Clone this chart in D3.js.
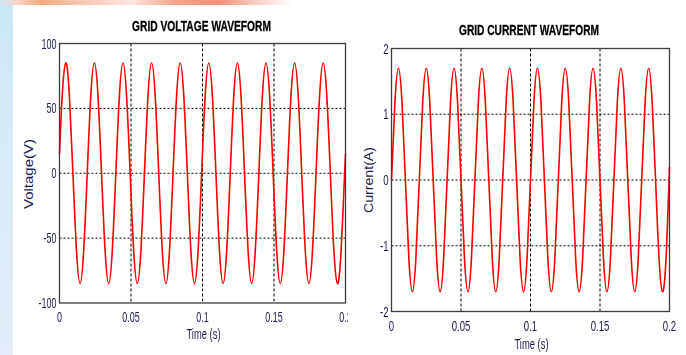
<!DOCTYPE html>
<html><head><meta charset="utf-8">
<script src="https://cdn.jsdelivr.net/npm/d3@7"></script>
<style>body{margin:0;background:#fff}svg{display:block}</style>
</head><body>
<svg id="c" width="686" height="355"></svg>
<script>
// ---- data (times in ms) ----
const voltageTime = [0, 1.9, 4.4, 6.9, 9.4, 11.9, 14.4, 16.9, 19.4, 21.9, 24.4, 26.9, 29.4, 31.9, 34.4, 36.9, 39.4,
  41.9, 44.4, 46.9, 49.4, 51.9, 54.4, 56.9, 59.4, 61.9, 64.4, 66.9, 69.4, 71.9, 74.4, 76.9, 79.4,
  81.9, 84.4, 86.9, 89.4, 91.9, 94.4, 96.9, 99.4, 101.9, 104.4, 106.9, 109.4, 111.9, 114.4, 116.9, 119.4,
  121.9, 124.4, 126.9, 129.4, 131.9, 134.4, 136.9, 139.4, 141.9, 144.4, 146.9, 149.4, 151.9, 154.4, 156.9, 159.4,
  161.9, 164.4, 166.9, 169.4, 171.9, 174.4, 176.9, 179.4, 181.9, 184.4, 186.9, 189.4, 191.9, 194.4, 196.9, 199.4, 200];
const voltageValue = [15,
  60, 85, 60, 0, -60, -85, -60, 0,
  60, 85, 60, 0, -60, -85, -60, 0,
  60, 85, 60, 0, -60, -85, -60, 0,
  60, 85, 60, 0, -60, -85, -60, 0,
  60, 85, 60, 0, -60, -85, -60, 0,
  60, 85, 60, 0, -60, -85, -60, 0,
  60, 85, 60, 0, -60, -85, -60, 0,
  60, 85, 60, 0, -60, -85, -60, 0,
  60, 85, 60, 0, -60, -85, -60, 0,
  60, 85, 60, 0, -60, -85, -60, 0,
  15];
const currentTime = [0, 2.5, 5, 7.5, 10, 12.5, 15, 17.5, 20, 22.5, 25, 27.5, 30, 32.5, 35, 37.5, 40,
  42.5, 45, 47.5, 50, 52.5, 55, 57.5, 60, 62.5, 65, 67.5, 70, 72.5, 75, 77.5, 80,
  82.5, 85, 87.5, 90, 92.5, 95, 97.5, 100, 102.5, 105, 107.5, 110, 112.5, 115, 117.5, 120,
  122.5, 125, 127.5, 130, 132.5, 135, 137.5, 140, 142.5, 145, 147.5, 150, 152.5, 155, 157.5, 160,
  162.5, 165, 167.5, 170, 172.5, 175, 177.5, 180, 182.5, 185, 187.5, 190, 192.5, 195, 197.5, 200];
const currentValue = [0,
  1.2, 1.7, 1.2, 0, -1.2, -1.7, -1.2, 0,
  1.2, 1.7, 1.2, 0, -1.2, -1.7, -1.2, 0,
  1.2, 1.7, 1.2, 0, -1.2, -1.7, -1.2, 0,
  1.2, 1.7, 1.2, 0, -1.2, -1.7, -1.2, 0,
  1.2, 1.7, 1.2, 0, -1.2, -1.7, -1.2, 0,
  1.2, 1.7, 1.2, 0, -1.2, -1.7, -1.2, 0,
  1.2, 1.7, 1.2, 0, -1.2, -1.7, -1.2, 0,
  1.2, 1.7, 1.2, 0, -1.2, -1.7, -1.2, 0,
  1.2, 1.7, 1.2, 0, -1.2, -1.7, -1.2, 0,
  1.2, 1.7, 1.2, 0, -1.2, -1.7, -1.2, 0.2];
const xTicks = [0, 0.05, 0.1, 0.15, 0.2];
const xTickLabels = ["0", "0.05", "0.1", "0.15", "0.2"];
const xGrid = [0.05, 0.1, 0.15];
const voltageTicks = [-100, -50, 0, 50, 100];
const voltageGrid = [-50, 0, 50];
const currentTicks = [-2, -1, 0, 1, 2];
const currentGrid = [-1, 0, 1];

const svg = d3.select('#c');
const defs = svg.append('defs');
const blur = defs.append('filter').attr('id','bl').attr('x','-20%').attr('y','-50%').attr('width','140%').attr('height','200%');
blur.append('feGaussianBlur').attr('stdDeviation', 0.35);
const gV = defs.append('linearGradient').attr('id','gv').attr('x1',0).attr('y1',0).attr('x2',0).attr('y2',1);
gV.append('stop').attr('offset','0%').attr('stop-color','#c9e6f4');
gV.append('stop').attr('offset','40%').attr('stop-color','#d8ecf7');
gV.append('stop').attr('offset','100%').attr('stop-color','#e4edf9');
const gH = defs.append('linearGradient').attr('id','gh');
[['0%','#cfe6f3'],['6%','#f7d6c6'],['14%','#f3a97c'],['26%','#f6c3b0'],['45%','#fbe6e2'],['60%','#f3a48a'],['75%','#f2907a'],['88%','#f8cfc6'],['100%','#ffffff']]
  .forEach(([o,c]) => gH.append('stop').attr('offset',o).attr('stop-color',c));

svg.append('rect').attr('width',686).attr('height',355).attr('fill','#fff');
svg.append('rect').attr('x',0).attr('y',0).attr('width',13).attr('height',355).attr('fill','url(#gv)');
svg.append('rect').attr('x',0).attr('y',0).attr('width',292).attr('height',5).attr('fill','url(#gh)');

function label(g, x, y, txt, size, anchor, sx, fill) {
  return g.append('text')
    .attr('transform', `translate(${x},${y}) scale(${sx},1)`)
    .attr('text-anchor', anchor)
    .attr('font-family', 'Liberation Sans, Arial, sans-serif')
    .attr('font-size', size)
    .attr('fill', fill)
    .text(txt);
}

function panel(cfg) {
  const g = svg.append('g');
  const x = d3.scaleLinear().domain([0, 0.2]).range([cfg.left, cfg.right]);
  const y = d3.scaleLinear().domain(cfg.yDomain).range([cfg.bottom, cfg.top]);
  // grid
  g.selectAll('.vg').data(xGrid).enter().append('line')
    .attr('x1', d => x(d)).attr('x2', d => x(d)).attr('y1', cfg.top).attr('y2', cfg.bottom)
    .attr('stroke', '#000').attr('stroke-width', 1).attr('stroke-dasharray', '3,2');
  g.selectAll('.hg').data(cfg.yGrid).enter().append('line')
    .attr('y1', d => y(d)).attr('y2', d => y(d)).attr('x1', cfg.left).attr('x2', cfg.right)
    .attr('stroke', '#000').attr('stroke-width', 1).attr('stroke-dasharray', '2,2');
  // curve
  const pts = cfg.t.map((t, i) => [t / 1000, cfg.v[i]]);
  g.append('path').datum(pts)
    .attr('d', d3.line().x(d => x(d[0])).y(d => y(d[1])).curve(d3.curveNatural))
    .attr('fill', 'none').attr('stroke', '#ff0000').attr('stroke-width', 1.6);
  // frame
  g.append('rect').attr('x', cfg.left).attr('y', cfg.top)
    .attr('width', cfg.right - cfg.left).attr('height', cfg.bottom - cfg.top)
    .attr('fill', 'none').attr('stroke', '#3c3c3c').attr('stroke-width', 1.3);
  // tick labels
  const tl = g.append('g').attr('filter', 'url(#bl)');
  xTicks.forEach((t, i) => label(tl, x(t), cfg.bottom + cfg.xTickDy, xTickLabels[i], cfg.tickSize, 'middle', 0.64, '#1c1c50'));
  cfg.yTicks.forEach(v => label(tl, cfg.left - 3, y(v) + 5, String(v), cfg.tickSize, 'end', 0.64, '#1c1c50'));
  // title
  g.append('text').attr('x', cfg.titleX).attr('y', cfg.titleY).attr('text-anchor', 'middle')
    .attr('font-family', 'Liberation Sans, Arial, sans-serif').attr('font-weight', 'bold')
    .attr('font-size', 15).attr('textLength', cfg.titleW).attr('lengthAdjust', 'spacingAndGlyphs')
    .attr('fill', '#000').attr('stroke', '#000').attr('stroke-width', 0.3).text(cfg.title);
  // x label
  g.append('text').attr('x', (cfg.left + cfg.right) / 2 + 1).attr('y', cfg.bottom + cfg.xLabelDy).attr('text-anchor', 'middle')
    .attr('font-family', 'Liberation Sans, Arial, sans-serif').attr('font-size', 14)
    .attr('textLength', 34).attr('lengthAdjust', 'spacingAndGlyphs')
    .attr('fill', '#1c1c50').text('Time (s)');
  // y label
  g.append('text').attr('transform', `translate(${cfg.yLabelX},${cfg.yLabelY}) rotate(-90)`)
    .attr('text-anchor', 'middle')
    .attr('font-family', 'Liberation Sans, Arial, sans-serif').attr('font-size', 12)
    .attr('textLength', cfg.yLabelW).attr('lengthAdjust', 'spacingAndGlyphs')
    .attr('fill', '#1c1c50').text(cfg.yLabel);
  return g;
}

panel({left: 59.5, right: 345.5, top: 43.5, bottom: 303, yDomain: [-100, 100],
  yTicks: voltageTicks, yGrid: voltageGrid, t: voltageTime, v: voltageValue,
  tickSize: 14, xTickDy: 18.5, xLabelDy: 36,
  title: 'GRID VOLTAGE WAVEFORM', titleX: 201.5, titleY: 31, titleW: 139,
  yLabel: 'Voltage(V)', yLabelX: 33, yLabelY: 174, yLabelW: 70});

// right figure sits over the left figure's last label
svg.append('rect').attr('x', 348).attr('y', 0).attr('width', 338).attr('height', 355).attr('fill', '#fff');

panel({left: 391.5, right: 669.5, top: 48.5, bottom: 311.5, yDomain: [-2, 2],
  yTicks: currentTicks, yGrid: currentGrid, t: currentTime, v: currentValue,
  tickSize: 15, xTickDy: 19.5, xLabelDy: 37,
  title: 'GRID CURRENT WAVEFORM', titleX: 529, titleY: 35, titleW: 140,
  yLabel: 'Current(A)', yLabelX: 373, yLabelY: 180, yLabelW: 66});
</script>
</body></html>
